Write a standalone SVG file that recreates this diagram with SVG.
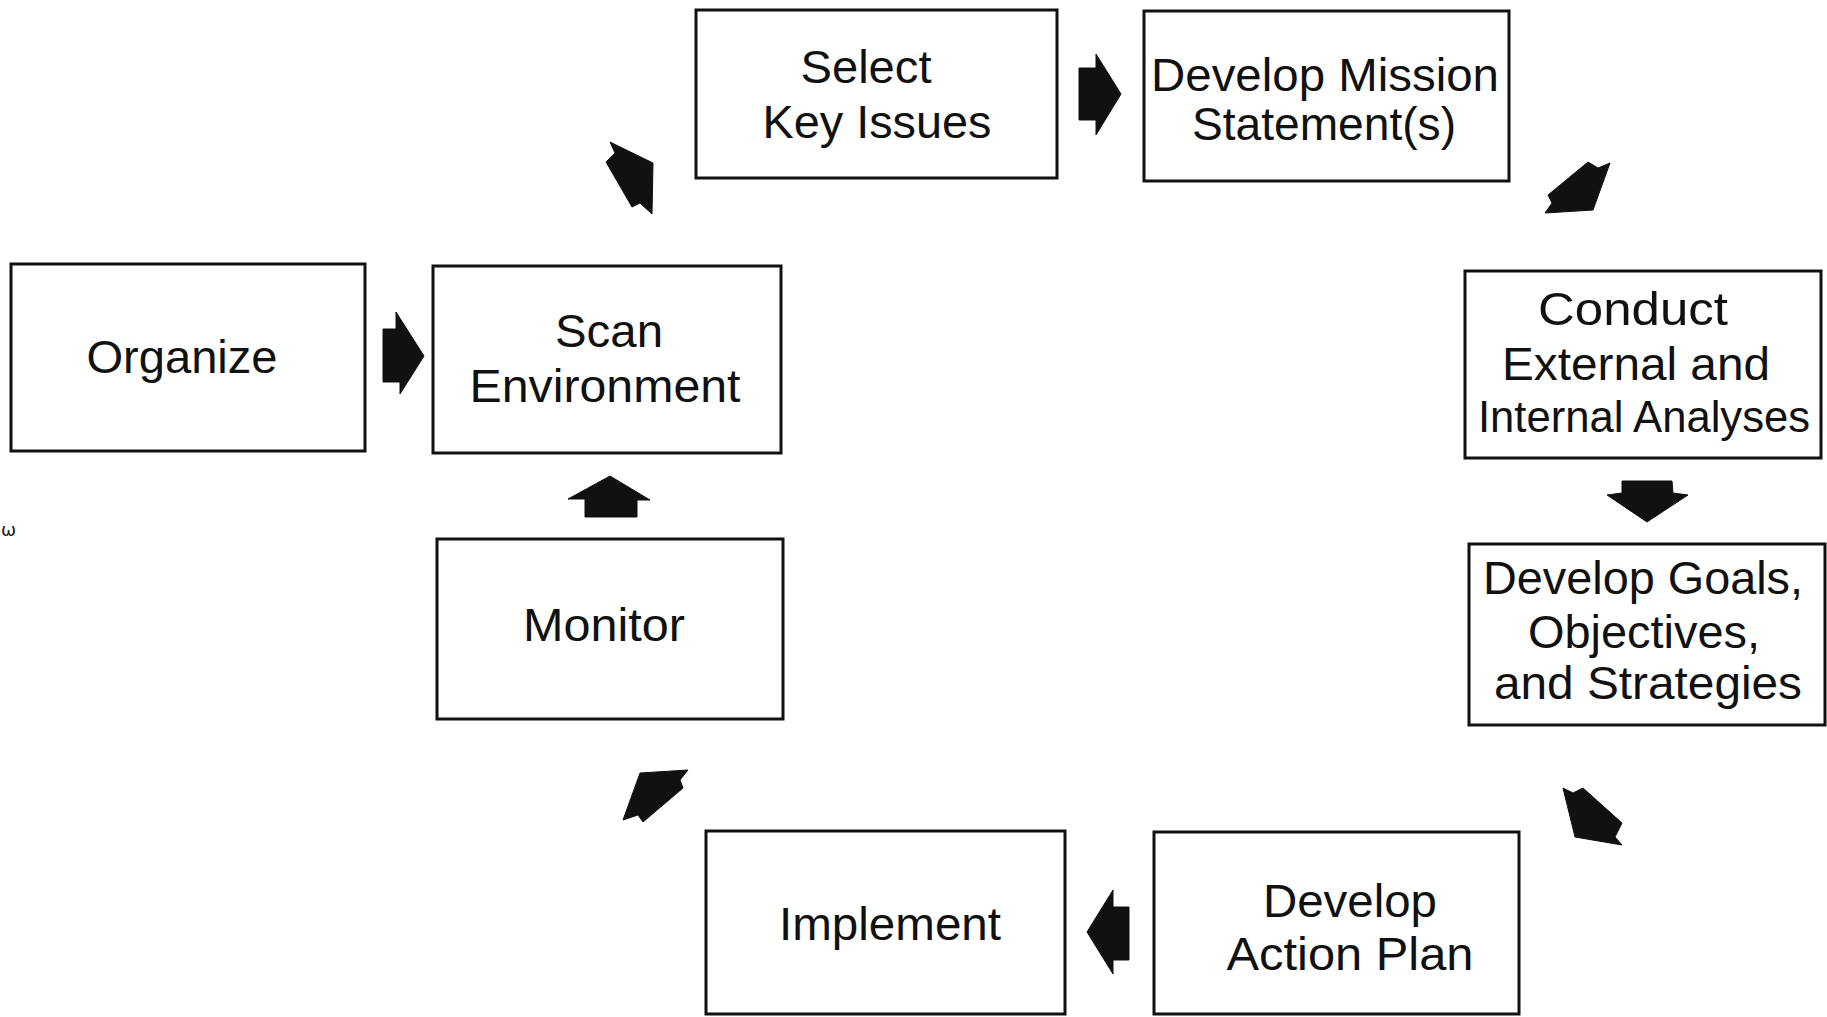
<svg xmlns="http://www.w3.org/2000/svg" width="1827" height="1017" viewBox="0 0 1827 1017">
  <defs>
    <style>
      .box { fill: #ffffff; stroke: #111111; stroke-width: 3; }
      .lbl { font-family: "Liberation Sans", Arial, sans-serif; font-size: 47px; fill: #111111; text-anchor: middle; }
      .tight { font-size: 44px; }
      .arrow { fill: #111111; stroke: #111111; stroke-width: 1; stroke-linejoin: round; }
      .mark { font-family: "DejaVu Sans", sans-serif; font-size: 18px; fill: #222222; }
    </style>
  </defs>

  <rect width="1827" height="1017" fill="#ffffff"/>

  <!-- process steps -->
  <g id="organize">
    <rect class="box" x="11" y="264" width="354" height="187"/>
    <text class="lbl" x="182" y="373" textLength="191" lengthAdjust="spacingAndGlyphs">Organize</text>
  </g>

  <g id="scan-environment">
    <rect class="box" x="433" y="266" width="348" height="187"/>
    <text class="lbl" x="609" y="347" textLength="108" lengthAdjust="spacingAndGlyphs">Scan</text>
    <text class="lbl" x="605" y="402" textLength="271" lengthAdjust="spacingAndGlyphs">Environment</text>
  </g>

  <g id="select-key-issues">
    <rect class="box" x="696" y="10" width="361" height="168"/>
    <text class="lbl" x="866" y="83" textLength="131" lengthAdjust="spacingAndGlyphs">Select</text>
    <text class="lbl" x="877" y="138" textLength="229" lengthAdjust="spacingAndGlyphs">Key Issues</text>
  </g>

  <g id="develop-mission">
    <rect class="box" x="1144" y="11" width="365" height="170"/>
    <text class="lbl" x="1325" y="91" textLength="348" lengthAdjust="spacingAndGlyphs">Develop Mission</text>
    <text class="lbl" x="1324" y="140" textLength="264" lengthAdjust="spacingAndGlyphs">Statement(s)</text>
  </g>

  <g id="conduct-analyses">
    <rect class="box" x="1465" y="271" width="356" height="187"/>
    <text class="lbl" x="1633" y="325" textLength="190" lengthAdjust="spacingAndGlyphs">Conduct</text>
    <text class="lbl" x="1636" y="380" textLength="268" lengthAdjust="spacingAndGlyphs">External and</text>
    <text class="lbl tight" x="1644" y="432" textLength="332" lengthAdjust="spacingAndGlyphs">Internal Analyses</text>
  </g>

  <g id="develop-goals">
    <rect class="box" x="1469" y="544" width="356" height="181"/>
    <text class="lbl" x="1643" y="594" textLength="320" lengthAdjust="spacingAndGlyphs">Develop Goals,</text>
    <text class="lbl" x="1644" y="648" textLength="232" lengthAdjust="spacingAndGlyphs">Objectives,</text>
    <text class="lbl" x="1648" y="699" textLength="308" lengthAdjust="spacingAndGlyphs">and Strategies</text>
  </g>

  <g id="develop-action-plan">
    <rect class="box" x="1154" y="832" width="365" height="182"/>
    <text class="lbl" x="1350" y="917" textLength="174" lengthAdjust="spacingAndGlyphs">Develop</text>
    <text class="lbl" x="1350" y="970" textLength="247" lengthAdjust="spacingAndGlyphs">Action Plan</text>
  </g>

  <g id="implement">
    <rect class="box" x="706" y="831" width="359" height="183"/>
    <text class="lbl" x="890" y="940" textLength="222" lengthAdjust="spacingAndGlyphs">Implement</text>
  </g>

  <g id="monitor">
    <rect class="box" x="437" y="539" width="346" height="180"/>
    <text class="lbl" x="604" y="641" textLength="162" lengthAdjust="spacingAndGlyphs">Monitor</text>
  </g>

  <!-- block arrows between steps -->
  <g id="connectors">
    <polygon class="arrow" points="383,329 396,329 396,312 424,356 400,394 400,382 383,382"/>
    <polygon class="arrow" points="610,142 615,153 606,162 632,207 640,203 652,214 653,163"/>
    <polygon class="arrow" points="1079,68 1096,68 1096,54 1121,94 1096,135 1096,120 1079,120"/>
    <polygon class="arrow" points="1545,213 1552,203 1548,195 1588,162 1598,168 1610,163 1593,210"/>
    <polygon class="arrow" points="1622,481 1672,481 1673,493 1688,495 1647,522 1607,495 1622,493"/>
    <polygon class="arrow" points="1563,788 1573,793 1583,788 1622,823 1615,837 1622,845 1575,837"/>
    <polygon class="arrow" points="1129,907 1113,907 1113,890 1087,932 1113,974 1113,960 1129,960"/>
    <polygon class="arrow" points="640,773 688,770 680,780 683,788 643,822 638,815 623,820"/>
    <polygon class="arrow" points="610,476 650,500 637,500 637,517 585,517 585,499 568,499"/>
  </g>

  <text class="mark" x="1" y="536">ω</text>
</svg>
